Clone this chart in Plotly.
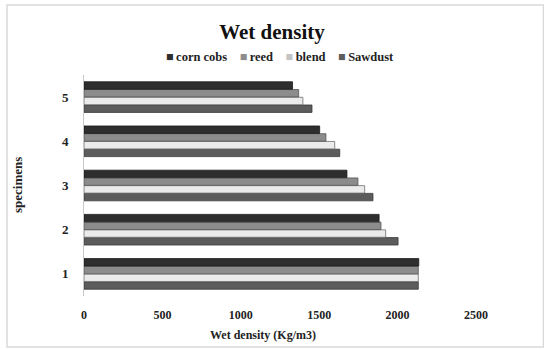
import plotly.graph_objects as go

specimens = ["1", "2", "3", "4", "5"]
corn_cobs = [2135, 1882, 1677, 1503, 1330]
reed = [2132, 1894, 1747, 1543, 1369]
blend = [2132, 1924, 1790, 1599, 1396]
sawdust = [2132, 2003, 1843, 1631, 1454]
x_ticks = [0, 500, 1000, 1500, 2000, 2500]

FONT = "Liberation Serif"

series = [
    ("Sawdust", sawdust, "#5c5c5c", "#3a3a3a"),
    ("blend", blend, "#ebebeb", "#6e6e6e"),
    ("reed", reed, "#8c8c8c", "#555555"),
    ("corn cobs", corn_cobs, "#2e2e2e", "#1a1a1a"),
]
legend_swatch = {"Sawdust": "#5c5c5c", "blend": "#c4c4c4", "reed": "#8c8c8c", "corn cobs": "#2e2e2e"}

fig = go.Figure()
for name, vals, fill, edge in series:
    fig.add_trace(go.Bar(
        y=specimens, x=vals, name=name, orientation="h", showlegend=False,
        marker=dict(color=fill, line=dict(color=edge, width=0.8)),
    ))

W, H = 544, 349
L, R, T, B = 84, 68, 75, 53
pw, ph = W - L - R, H - T - B

legend_text = "&nbsp;&nbsp;&nbsp;&nbsp;".join(
    f"<span style='color:{legend_swatch[n]}'>■</span>&#8201;<b>{n}</b>" for n, *_ in reversed(series)
)

fig.update_layout(
    width=W, height=H,
    margin=dict(l=L, r=R, t=T, b=B, autoexpand=False),
    paper_bgcolor="white", plot_bgcolor="white",
    font=dict(family=FONT, color="#222", size=12),
    barmode="group", bargap=0.3, bargroupgap=0.04,
    showlegend=False,
    title=dict(text="<b>Wet density</b>", x=272 / W, xanchor="center",
               y=1 - 32 / H, yanchor="middle", font=dict(size=21, family=FONT, color="#111")),
    xaxis=dict(range=[0, 2500], tickvals=x_ticks, ticktext=[f"<b>{v}</b>" for v in x_ticks],
               showgrid=False, zeroline=False, showline=False, ticks="",
               ticklabelstandoff=10, tickfont=dict(size=12, family=FONT, color="#222")),
    yaxis=dict(categoryorder="array", categoryarray=specimens,
               tickvals=specimens, ticktext=[f"<b>{s}</b>" for s in specimens],
               showgrid=False, zeroline=False, showline=True, linecolor="#c8c8c8", linewidth=1,
               ticks="", ticklabelstandoff=12, tickfont=dict(size=13, family=FONT, color="#222")),
    annotations=[
        dict(text=legend_text, xref="paper", yref="paper",
             x=(280 - L) / pw, y=(T + ph - 57) / ph, xanchor="center", yanchor="middle",
             showarrow=False, font=dict(size=12.5, family=FONT, color="#222")),
        dict(text="<b>Wet density (Kg/m3)</b>", xref="paper", yref="paper",
             x=(263 - L) / pw, y=-(335 - (T + ph)) / ph, xanchor="center", yanchor="middle",
             showarrow=False, font=dict(size=12, family=FONT, color="#222")),
        dict(text="<b>specimens</b>", xref="paper", yref="paper", textangle=-90,
             x=(17 - L) / pw, y=(T + ph - 185) / ph, xanchor="center", yanchor="middle",
             showarrow=False, font=dict(size=13, family=FONT, color="#222")),
    ],
    shapes=[dict(type="rect", xref="paper", yref="paper",
                 x0=(7 - L) / pw, x1=(543.5 - L) / pw,
                 y0=(T + ph - 347) / ph, y1=(T + ph - 5) / ph,
                 line=dict(color="#d9d9d9", width=1.5), fillcolor="rgba(0,0,0,0)", layer="below")],
)

fig.write_html("out.html")
